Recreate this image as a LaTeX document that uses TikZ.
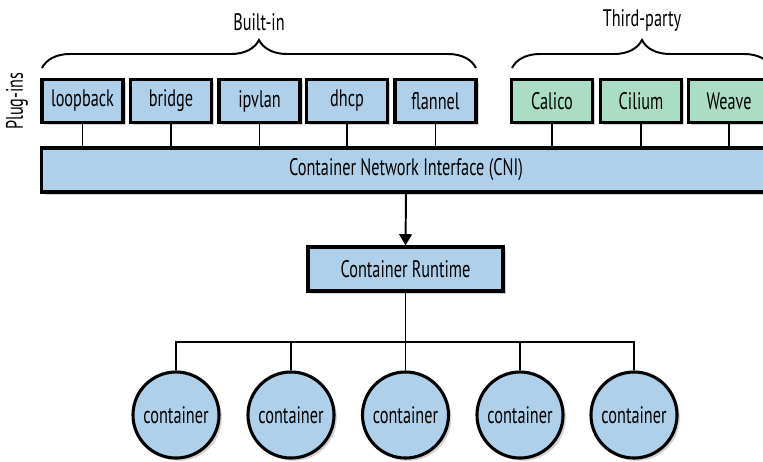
\documentclass[tikz,border=0pt]{standalone}
\usepackage{fontspec}
\setmainfont{PT Sans}[FakeStretch=0.68]
\usetikzlibrary{shadows,arrows.meta,decorations.pathreplacing}

\definecolor{plugblue}{RGB}{174,208,234}
\definecolor{pluggreen}{RGB}{170,221,196}

\begin{document}
\begin{tikzpicture}[x=0.025cm, y=-0.025cm,
		box/.style={draw, line width=2.2pt, fill=plugblue, font=\fontsize{17}{19}\selectfont,
			minimum width=2.025cm, minimum height=1.075cm, inner sep=0pt,
			drop shadow={shadow xshift=2pt, shadow yshift=-2pt, opacity=0.35}},
		third/.style={box, fill=pluggreen},
		cont/.style={circle, draw, line width=2.2pt, fill=plugblue, minimum size=2.15cm, inner sep=0pt,
			font=\fontsize{17}{19}\selectfont,
			drop shadow={shadow xshift=2pt, shadow yshift=-2pt, opacity=0.35}},
		wire/.style={line width=1.4pt},
		grp/.style={font=\fontsize{17}{19}\selectfont}]

	\useasboundingbox (0,0) rectangle (763,461);

	% ===== plug-ins =====
	\node[box] (loopback) at (82.5,101) {loopback};
	\node[box] (bridge) at (171,101) {bridge};
	\node[box] (ipvlan) at (259.5,101) {ipvlan};
	\node[box] (dhcp) at (347,101) {dhcp};
	\node[box] (flannel) at (435.5,101) {flannel};
	\node[third] (calico) at (552,101) {Calico};
	\node[third] (cilium) at (641,101) {Cilium};
	\node[third] (weave) at (729,101) {Weave};

	\node[grp, rotate=90] (plugins) at (17,101) {Plug-ins};

	% ===== klamry =====
	\draw[line width=1.4pt, decorate, decoration={brace, amplitude=0.7cm}]
		(42,68) -- (476,68) node[grp, midway, above=0.78cm] (builtin) {Built-in};
	\draw[line width=1.4pt, decorate, decoration={brace, amplitude=0.7cm}]
		(512,68) -- (772,68) node[grp, midway, above=0.78cm] (thirdparty) {Third-party};

	% ===== CNI =====
	\node[box, minimum width=18.2cm, minimum height=1.1cm] (cni) at (406,170) {Container Network Interface (CNI)};
	\foreach \p in {loopback,bridge,ipvlan,dhcp,flannel,calico,cilium,weave}
		\draw[wire] (\p.south) -- (\p.south |- cni.north);

	% ===== runtime =====
	\node[box, minimum width=4.875cm, minimum height=1.1cm] (runtime) at (405.5,269) {Container Runtime};
	\draw[wire, -{Triangle[length=8pt, width=9pt]}] (cni.south) -- (runtime.north);

	% ===== containers =====
	\coordinate (bus) at (405.5,342);
	\draw[wire] (runtime.south) -- (bus);
	\foreach \i/\x in {1/176, 2/291, 3/405.5, 4/520, 5/634} {
		\node[cont] (c\i) at (\x,415) {container};
		\draw[wire] (c\i.north) |- (bus);
	}
\end{tikzpicture}
\end{document}
